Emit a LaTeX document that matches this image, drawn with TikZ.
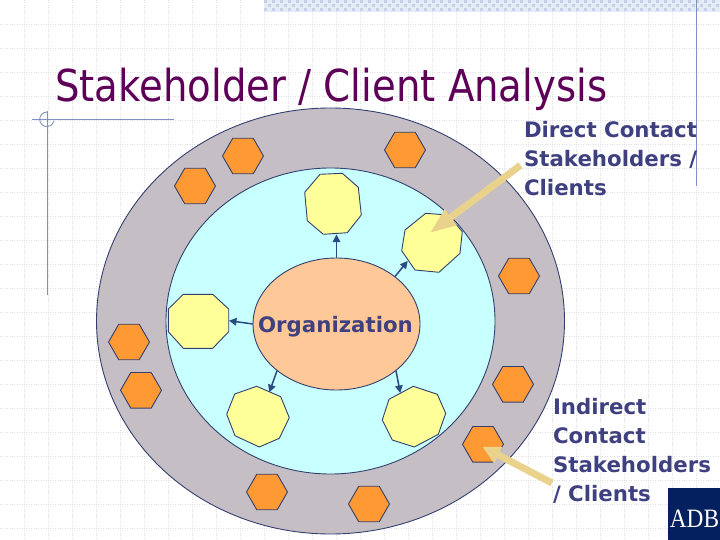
\documentclass[tikz,border=0pt]{standalone}
\usepackage{fontspec}
\usetikzlibrary{shapes.geometric,arrows.meta}
\newfontfamily\titlefont{DejaVu Sans}[FakeStretch=0.878]
\newfontfamily\labelfont{DejaVu Sans}
\newfontfamily\logofont{Liberation Serif}[FakeStretch=0.88]
\definecolor{gridc}{HTML}{DDDFE4}
\definecolor{ringc}{HTML}{C5BFC5}
\definecolor{innerc}{HTML}{C8FFFF}
\definecolor{orgc}{HTML}{FFC898}
\definecolor{yelc}{HTML}{FFFF99}
\definecolor{hexc}{HTML}{FF9933}
\definecolor{edgec}{HTML}{33406F}
\definecolor{arrc}{HTML}{2B4A82}
\definecolor{linec}{HTML}{8090C4}
\definecolor{tanc}{HTML}{E8D28C}
\definecolor{textc}{HTML}{3F4080}
\definecolor{titlec}{HTML}{5E0058}
\definecolor{navyc}{HTML}{04205E}
\definecolor{bandc}{HTML}{E6ECF5}
\definecolor{checkc}{HTML}{C3D2E8}
\tikzset{
  gridline/.style={gridc,line width=0.8pt,dash pattern=on 1pt off 1.4pt},
  deco/.style={linec,line width=0.9pt},
  ringshape/.style={ellipse,draw=edgec,line width=0.9pt,inner sep=0pt,outer sep=0pt},
  hexshape/.style={regular polygon,regular polygon sides=6,minimum size=41pt,inner sep=0pt,outer sep=0pt,fill=hexc,draw=edgec,line width=0.9pt},
  yelshape/.style={fill=yelc,draw=edgec,line width=0.9pt,line join=round},
  smallarrow/.style={arrc,line width=1.5pt,-{Triangle[length=7.5pt,width=7.5pt]}},
  lab/.style={textc,font=\labelfont\bfseries\fontsize{21.3}{29}\selectfont,inner sep=0pt,outer sep=0pt,align=left,anchor=north west}
}
\begin{document}
\begin{tikzpicture}[x=1pt,y=-1pt]
\useasboundingbox (0,0) rectangle (720,540);
\fill[white] (0,0) rectangle (720,540);
% background grid
\foreach \gx in {24,48,...,696} \draw[gridline] (\gx,0) -- (\gx,540);
\foreach \gy in {24,48,...,528} \draw[gridline] (0,\gy) -- (720,\gy);
% top band
\fill[bandc] (264,0) rectangle (720,12);
\foreach \cx in {0,1,...,113}
  \foreach \cy in {0,1,2}{
    \pgfmathtruncatemacro{\odd}{mod(\cx+\cy,2)}
    \ifnum\odd=0 \fill[checkc] ({264+4*\cx},{4*\cy}) rectangle ++(3,3);\fi
  }
% decoration lines
\draw[deco] (32,119) -- (174,119);
\draw[deco] (47.5,111) -- (47.5,295);
\draw[deco] (47,112) arc[start angle=90,end angle=345,radius=7.3pt];
\draw[deco] (696.5,0) -- (696.5,186);
% rings
\node[ringshape,fill=ringc,minimum width=468pt,minimum height=426pt] (outer) at (330.5,321) {};
\node[ringshape,fill=innerc,minimum width=329pt,minimum height=306pt] (inner) at (330.5,321) {};
\node[ringshape,fill=orgc,minimum width=167pt,minimum height=132pt] (org) at (336.5,324) {};
\node[textc,font=\labelfont\bfseries\fontsize{21.3}{29}\selectfont,inner sep=0pt] (orglabel) at (335.5,326.5) {Organization};
% hexagons
\node[hexshape] (h1) at (195,186) {};
\node[hexshape] (h2) at (243,156) {};
\node[hexshape] (h3) at (405,150) {};
\node[hexshape] (h4) at (519,276) {};
\node[hexshape] (h5) at (513,384.3) {};
\node[hexshape] (h6) at (483,444.3) {};
\node[hexshape] (h7) at (369,504) {};
\node[hexshape] (h8) at (267,492) {};
\node[hexshape] (h9) at (141,390.3) {};
\node[hexshape] (h10) at (129,342) {};
% yellow polygons
\draw[yelshape] (320,174.3) -- (342.3,173.3) -- (358.3,187.3) -- (361.3,215) -- (347.3,232.7) -- (323.3,234.3) -- (307.3,220.7) -- (304.7,192.3) -- cycle;
\draw[yelshape] (425.7,213.3) -- (448.3,215) -- (462.3,231.7) -- (460,253.3) -- (439,272.3) -- (415,270) -- (401.7,250.7) -- (405,230) -- cycle;
\draw[yelshape] (183.3,294.3) -- (212.7,294.3) -- (228.7,309) -- (228.7,331.7) -- (212.7,348.3) -- (183.3,348.3) -- (168.3,331.7) -- (168.3,309) -- cycle;
\draw[yelshape] (256.7,386.3) -- (280.7,396.7) -- (289.3,417.7) -- (279.3,438.3) -- (259.3,447) -- (235,435.7) -- (226.7,414.3) -- (234.7,394) -- cycle;
\draw[yelshape] (413.3,386.3) -- (437.3,394.3) -- (445.7,413.3) -- (438.3,434.3) -- (414.3,447) -- (392.3,440) -- (382.3,420) -- (389,399.3) -- cycle;
% small connector ends
\coordinate (y1) at (336.5,234.5);
\coordinate (y2) at (407.7,261);
\coordinate (y3) at (229,320.7);
\coordinate (y4) at (269.3,392.3);
\coordinate (y5) at (400.3,393);
\draw[smallarrow] (org.90) -- (y1);
\draw[smallarrow] (org.39) -- (y2);
\draw[smallarrow] (org.180) -- (y3);
\draw[smallarrow] (org.218) -- (y4);
\draw[smallarrow] (org.-38) -- (y5);
% large arrows
\coordinate (dtail) at (520.5,165.3);
\coordinate (dtip) at (429.3,233.3);
\coordinate (itail) at (552,483);
\coordinate (itip) at (482.3,446.7);
\draw[tanc,line width=7pt,-{Triangle[length=27pt,width=18pt]}] (dtail) -- (dtip);
\draw[tanc,line width=7pt,-{Triangle[length=18pt,width=17pt]}] (itail) -- (itip);
% title and labels
\node[titlec,font=\titlefont\fontsize{44}{44}\selectfont,inner sep=0pt,anchor=base west] (title) at (55,102) {Stakeholder / Client Analysis};
\node[lab] (dlabel) at (524,121) {Direct Contact\\Stakeholders /\\Clients};
\node[lab] (ilabel) at (553,398) {Indirect\\Contact\\Stakeholders\\/ Clients};
% logo
\node[fill=navyc,minimum width=52pt,minimum height=51.7pt,inner sep=0pt,outer sep=0pt,anchor=south east] (logo) at (720,540) {};
\node[white,font=\logofont\fontsize{26.5}{26.5}\selectfont,inner sep=0pt,anchor=base] (logotext) at (694.5,527) {ADB};
\end{tikzpicture}
\end{document}
